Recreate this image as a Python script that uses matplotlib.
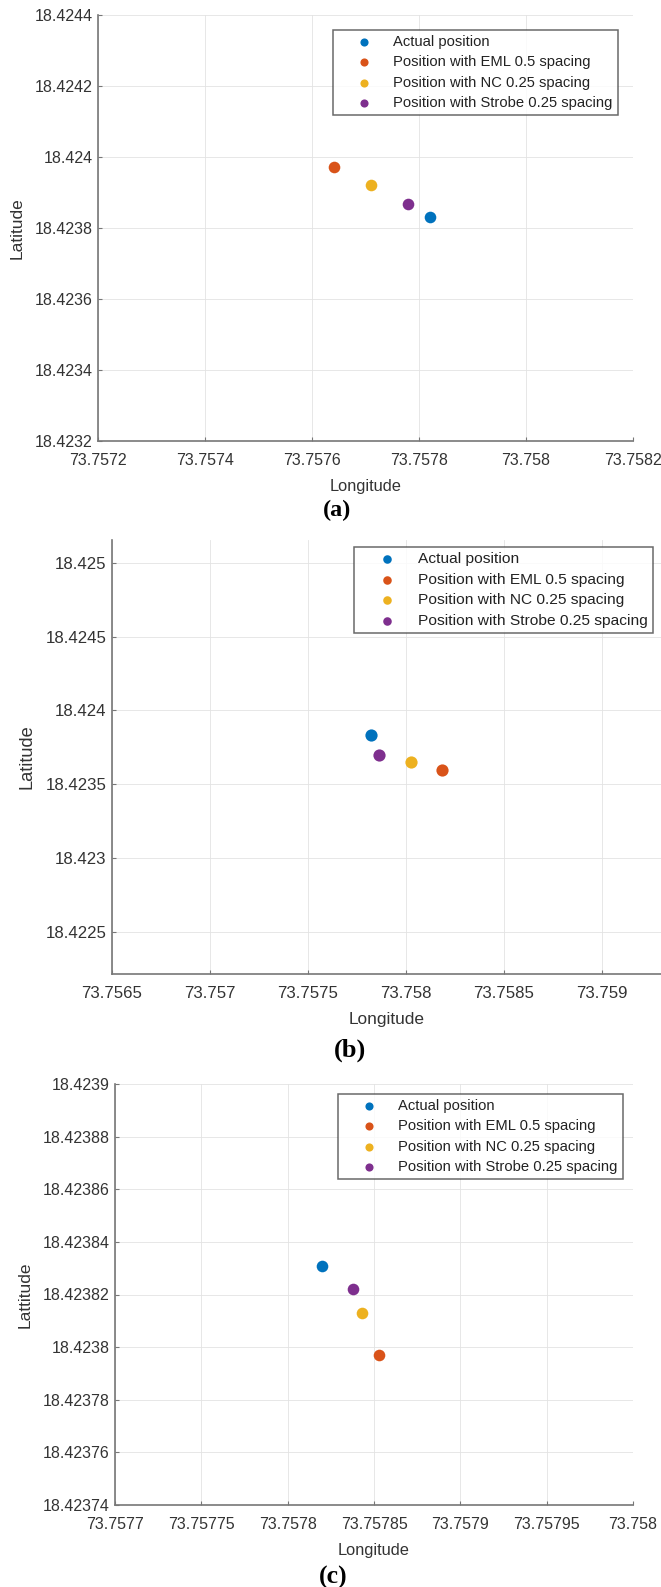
import matplotlib
matplotlib.use("Agg")
from matplotlib import pyplot as plt
from matplotlib.ticker import FixedLocator, FuncFormatter

plt.rcParams['font.family'] = ['Liberation Sans', 'DejaVu Sans']

labels = ["Actual position",
          "Position with EML 0.5 spacing",
          "Position with NC 0.25 spacing",
          "Position with Strobe 0.25 spacing"]
colors = ["#0072BD", "#D95319", "#EDB120", "#7E2F8E"]

# panel (a)
lon_a = [73.757820, 73.757641, 73.757710, 73.757779]
lat_a = [18.423831, 18.423971, 18.423921, 18.423867]
xticks_a = [73.7572, 73.7574, 73.7576, 73.7578, 73.7580, 73.7582]
yticks_a = [18.4232, 18.4234, 18.4236, 18.4238, 18.4240, 18.4242, 18.4244]

# panel (b)
lon_b = [73.757820, 73.758184, 73.758025, 73.757860]
lat_b = [18.423831, 18.423595, 18.423650, 18.423695]
xticks_b = [73.7565, 73.7570, 73.7575, 73.7580, 73.7585, 73.7590]
yticks_b = [18.4225, 18.4230, 18.4235, 18.4240, 18.4245, 18.4250]

# panel (c)
lon_c = [73.757820, 73.757853, 73.757843, 73.757838]
lat_c = [18.423831, 18.423797, 18.423813, 18.423822]
xticks_c = [73.75770, 73.75775, 73.75780, 73.75785, 73.75790, 73.75795, 73.75800]
yticks_c = [18.42374, 18.42376, 18.42378, 18.42380, 18.42382, 18.42384,
            18.42386, 18.42388, 18.42390]

W, H = 661, 1587
fig = plt.figure(figsize=(W / 100, H / 100), dpi=100)

fmt = FuncFormatter(lambda v, p: f"{round(v, 8):.10g}")


def panel(box, lon, lat, xticks, yticks, xlim, ylim, ylabel, leg_box, caption, k=1.0):
    left, right, top, bottom = box
    ax = fig.add_axes([left / W, 1 - bottom / H, (right - left) / W, (bottom - top) / H])
    for x, y, c, lab in zip(lon, lat, colors, labels):
        ax.scatter([x], [y], s=70 * k * k, color=c, label=lab, zorder=3, linewidths=0)
    ax.set_xlim(*xlim)
    ax.set_ylim(*ylim)
    ax.xaxis.set_major_locator(FixedLocator(xticks))
    ax.yaxis.set_major_locator(FixedLocator(yticks))
    ax.xaxis.set_major_formatter(fmt)
    ax.yaxis.set_major_formatter(fmt)
    ax.grid(True, color="#e3e3e3", linewidth=0.6)
    ax.set_axisbelow(True)
    for s in ["top", "right"]:
        ax.spines[s].set_visible(False)
    for s in ["left", "bottom"]:
        ax.spines[s].set_color("#777777")
        ax.spines[s].set_linewidth(1.2)
    ax.tick_params(direction="in", length=3, width=0.8, color="#777777",
                   labelsize=11.5 * k, labelcolor="#333333")
    ax.tick_params(axis="x", pad=8.6)
    ax.tick_params(axis="y", pad=4)
    ax.set_xlabel("Longitude", fontsize=11.8 * k, color="#333333", labelpad=8)
    ax.set_ylabel(ylabel, fontsize=12.5 * k, color="#333333", labelpad=7)
    lx, ly = leg_box
    leg = ax.legend(loc="upper right", bbox_to_anchor=(lx / W, 1 - ly / H),
                    bbox_transform=fig.transFigure, fontsize=10.6 * k, frameon=True,
                    fancybox=False, edgecolor="#444444", borderaxespad=0,
                    handlelength=3.5, handletextpad=0.25, labelspacing=0.42,
                    borderpad=0.35, markerscale=0.7, scatterpoints=1)
    leg.get_frame().set_linewidth(1.1)
    for t in leg.get_texts():
        t.set_color("#222222")
    cx, cy, text, size = caption
    fig.text(cx / W, 1 - cy / H, text, ha="center", va="center",
             fontsize=size, fontweight="bold", family=["Liberation Serif", "DejaVu Serif"])
    return ax


panel((98, 633, 15, 441), lon_a, lat_a, xticks_a, yticks_a,
      (73.7572, 73.7582), (18.4232, 18.4244), "Latitude", (618, 30),
      (337, 510, "(a)", 17.5))
panel((112, 661, 540, 974), lon_b, lat_b, xticks_b, yticks_b,
      (73.7565, 73.759301), (18.422212, 18.425156), "Latitude", (653, 547),
      (350, 1050, "(b)", 19), k=1.05)
panel((115, 633, 1084, 1505), lon_c, lat_c, xticks_c, yticks_c,
      (73.7577, 73.7580), (18.42374, 18.42390), "Lattitude", (623, 1094),
      (333, 1577, "(c)", 18.5))

fig.savefig("out.png", dpi=100)
